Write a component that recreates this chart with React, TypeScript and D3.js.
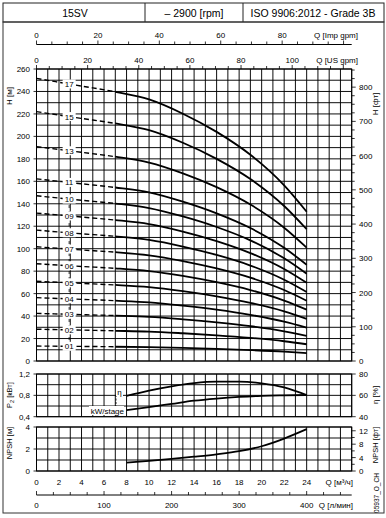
import React from "react";
import * as d3 from "d3";

// ---------- data ----------
const flowPts = [0, 4, 7, 10, 13, 16, 19, 22, 24]; // m3/h
const stageNames = ["01", "02", "03", "04", "05", "06", "07", "08", "09", "10", "11", "13", "15", "17"];
const head01 = [13.3, 13.0, 12.7, 12.3, 11.7, 10.8, 9.7, 8.3, 7.0];
const head02 = [28.3, 27.5, 26.9, 26.2, 24.7, 22.9, 20.6, 17.6, 14.9];
const head03 = [42.4, 41.3, 40.4, 39.3, 37.1, 34.4, 31.0, 26.4, 22.4];
const head04 = [56.4, 54.9, 53.7, 52.2, 49.3, 45.7, 41.1, 35.1, 29.8];
const head05 = [71.0, 69.1, 67.7, 65.8, 62.2, 57.6, 51.8, 44.2, 37.5];
const head06 = [86.6, 84.2, 82.5, 80.1, 75.8, 70.2, 63.2, 53.8, 45.7];
const head07 = [101.7, 98.9, 96.9, 94.1, 89.0, 82.4, 74.2, 63.2, 53.7];
const head08 = [116.5, 113.3, 111.0, 107.8, 101.9, 94.4, 85.0, 72.4, 61.5];
const head09 = [131.7, 128.2, 125.5, 121.9, 115.3, 106.8, 96.1, 81.9, 69.6];
const head10 = [147.1, 143.1, 140.2, 136.2, 128.7, 119.3, 107.4, 91.4, 77.7];
const head11 = [162.2, 157.8, 154.5, 150.2, 141.9, 131.5, 118.4, 100.8, 85.7];
const head13 = [190.9, 185.8, 181.9, 176.7, 167.1, 154.8, 139.3, 118.7, 100.9];
const head15 = [222.0, 216.0, 211.5, 205.5, 194.3, 180.0, 162.0, 138.0, 117.3];
const head17 = [251.6, 244.8, 239.7, 232.9, 220.2, 204.0, 183.6, 156.4, 132.9];
const headCurves = [head01, head02, head03, head04, head05, head06, head07, head08, head09, head10, head11, head13, head15, head17];

const perfFlow = [8, 10, 12, 14, 16, 18, 20, 22, 24];
const effVals = [59.5, 64.5, 68.5, 71.5, 72.8, 72.8, 71.3, 67.5, 60.3];
const powVals = [0.525, 0.58, 0.64, 0.7, 0.74, 0.77, 0.79, 0.8, 0.807];
const npshVals = [0.76, 0.92, 1.1, 1.3, 1.52, 1.8, 2.25, 2.95, 3.8];

const qTicksM3h = [0, 2, 4, 6, 8, 10, 12, 14, 16, 18, 20, 22, 24];
const hTicksM = [0, 20, 40, 60, 80, 100, 120, 140, 160, 180, 200, 220, 240, 260];
const hTicksFt = [0, 100, 200, 300, 400, 500, 600, 700, 800];
const impTicks = [0, 20, 40, 60, 80];
const usTicks = [0, 20, 40, 60, 80, 100];
const lminTicks = [0, 100, 200, 300, 400];
const pTicks = [0.4, 0.8, 1.2];
const pTickLabels = ["0,4", "0,8", "1,2"];
const etaTicks = [40, 60, 80];
const npshMTicks = [0, 2, 4];
const npshFtTicks = [0, 4, 8, 12];

// unit conversions
const IMP = 0.272765; // m3/h per Imp gpm
const USG = 0.227125; // m3/h per US gpm
const LMIN = 0.06; // m3/h per l/min
const FT = 0.3048; // m per ft

const FONT = "'Liberation Sans', Arial, Helvetica, sans-serif";

export default function App() {
  const x = d3.scaleLinear().domain([0, 28]).range([36.5, 351.7]);
  const yH = d3.scaleLinear().domain([0, 260]).range([361, 69]);
  const yP = d3.scaleLinear().domain([0.4, 1.2]).range([416.7, 374]);
  const yE = d3.scaleLinear().domain([40, 80]).range([416.7, 374]);
  const yN = d3.scaleLinear().domain([0, 4]).range([471, 427]);

  const xL = x(0), xR = x(28);
  const gridQ = d3.range(0, 29, 1);
  const gridH = d3.range(0, 261, 10);
  const gridP = [0.4, 0.6, 0.8, 1.0, 1.2];
  const gridN = [0, 1, 2, 3, 4];

  const lineH = d3
    .line<[number, number]>()
    .x((d) => x(d[0]))
    .y((d) => yH(d[1]))
    .curve(d3.curveMonotoneX);
  const mk = (ys: number[], sc: d3.ScaleLinear<number, number>, xs: number[]) =>
    d3
      .line<[number, number]>()
      .x((d) => x(d[0]))
      .y((d) => sc(d[1]))
      .curve(d3.curveMonotoneX)(xs.map((q, i) => [q, ys[i]] as [number, number])) || "";

  const labelQ = 2.9;
  const labelPos = headCurves.map((h) => {
    const t = labelQ / 4;
    return h[0] + (h[1] - h[0]) * t;
  });
  const lx = x(labelQ);

  const gridStroke = "#000";
  const gw = 0.95;
  const tickFont = 8;

  const vGrid = (y1: number, y2: number) =>
    gridQ.map((q) => <line key={"v" + q + y1} x1={x(q)} x2={x(q)} y1={y1} y2={y2} stroke={gridStroke} strokeWidth={gw} />);

  return (
    <svg width={386} height={518} style={{ position: "absolute", left: 0, top: 0, background: "#fff" }} fontFamily={FONT}>
      <defs>
        <clipPath id="dashClip">
          <rect x={xL} y={60} width={x(7) - xL} height={310} />
        </clipPath>
        <clipPath id="solidClip">
          <rect x={x(7)} y={60} width={xR - x(7)} height={310} />
        </clipPath>
      </defs>
      <rect x={0} y={0} width={386} height={518} fill="#fff" />
      {/* header */}
      <rect x={3} y={3} width={381} height={19} fill="none" stroke="#222" strokeWidth={1} />
      <line x1={145} x2={145} y1={3} y2={22} stroke="#222" />
      <line x1={243} x2={243} y1={3} y2={22} stroke="#222" />
      <text x={75} y={16.5} fontSize={10.5} textAnchor="middle">15SV</text>
      <text x={194} y={16.5} fontSize={10.5} textAnchor="middle">– 2900 [rpm]</text>
      <text x={313} y={16.5} fontSize={10.5} textAnchor="middle">ISO 9906:2012 - Grade 3B</text>
      {/* outer frame */}
      <rect x={3} y={22} width={381} height={491} fill="none" stroke="#333" strokeWidth={1} />

      {/* top axes: Imp gpm */}
      <line x1={xL} x2={xR} y1={44.5} y2={44.5} stroke="#000" strokeWidth={1} />
      {d3.range(0, 101, 5).map((g) => (
        <line key={"imp" + g} x1={x(g * IMP)} x2={x(g * IMP)} y1={44.5} y2={g % 20 === 0 ? 40.5 : 41.5} stroke="#000" strokeWidth={0.8} />
      ))}
      {impTicks.map((g) => (
        <text key={"impl" + g} x={x(g * IMP)} y={38} fontSize={tickFont} textAnchor="middle">{g}</text>
      ))}
      <text x={358} y={38} fontSize={tickFont} textAnchor="end">Q [Imp gpm]</text>
      {/* US gpm */}
      {d3.range(0, 121, 5).map((g) => (
        <line key={"us" + g} x1={x(g * USG)} x2={x(g * USG)} y1={69} y2={g % 20 === 0 ? 65 : 66} stroke="#000" strokeWidth={0.8} />
      ))}
      {usTicks.map((g) => (
        <text key={"usl" + g} x={x(g * USG)} y={63} fontSize={tickFont} textAnchor="middle">{g}</text>
      ))}
      <text x={358} y={63} fontSize={tickFont} textAnchor="end">Q [US gpm]</text>

      {/* main grid */}
      {vGrid(69, 361)}
      {gridH.map((h) => (
        <line key={"h" + h} x1={xL} x2={xR} y1={yH(h)} y2={yH(h)} stroke={gridStroke} strokeWidth={gw} />
      ))}
      <rect x={xL} y={69} width={xR - xL} height={292} fill="none" stroke="#000" strokeWidth={1} />
      {/* left H axis */}
      {hTicksM.map((h) => (
        <g key={"hl" + h}>
          <line x1={xL - 3} x2={xL} y1={yH(h)} y2={yH(h)} stroke="#000" strokeWidth={0.8} />
          <text x={30} y={yH(h) + 3} fontSize={tickFont} textAnchor="end">{h}</text>
        </g>
      ))}
      <text transform={`translate(12,96) rotate(-90)`} fontSize={tickFont} textAnchor="middle">H [м]</text>
      {/* right ft axis */}
      {d3.range(0, 851, 25).map((f) => (
        <line key={"ft" + f} x1={xR} x2={xR + (f % 100 === 0 ? 4 : 3)} y1={yH(f * FT)} y2={yH(f * FT)} stroke="#000" strokeWidth={0.8} />
      ))}
      {hTicksFt.map((f) => (
        <text key={"ftl" + f} x={359} y={yH(f * FT) + 3} fontSize={tickFont}>{f}</text>
      ))}
      <text transform={`translate(378,104) rotate(-90)`} fontSize={tickFont} textAnchor="middle">H [фт]</text>

      {/* head curves */}
      {headCurves.map((h, i) => {
        const d = lineH(flowPts.map((q, j) => [q, h[j]] as [number, number])) || "";
        return (
          <g key={"c" + i}>
            <path d={d} fill="none" stroke="#000" strokeWidth={1.4} strokeDasharray="5,3" clipPath="url(#dashClip)" />
            <path d={d} fill="none" stroke="#000" strokeWidth={1.8} clipPath="url(#solidClip)" />
          </g>
        );
      })}
      {/* label leader */}
      <line x1={lx} x2={lx} y1={yH(labelPos[9])} y2={yH(labelPos[0])} stroke="#000" strokeWidth={0.8} strokeDasharray="3,3" />
      {stageNames.map((s, i) => (
        <g key={"lab" + s}>
          <rect x={lx - 6.5} y={yH(labelPos[i]) - 4.5} width={13} height={9} fill="#fff" />
          <text x={lx} y={yH(labelPos[i]) + 3} fontSize={tickFont} textAnchor="middle">{s}</text>
        </g>
      ))}

      {/* P / eta panel */}
      {vGrid(374, 416.7)}
      {gridP.map((p) => (
        <line key={"p" + p} x1={xL} x2={xR} y1={yP(p)} y2={yP(p)} stroke={gridStroke} strokeWidth={gw} />
      ))}
      <rect x={xL} y={374} width={xR - xL} height={42.7} fill="none" stroke="#000" strokeWidth={1} />
      {pTicks.map((p, i) => (
        <g key={"pl" + p}>
          <line x1={xL - 3} x2={xL} y1={yP(p)} y2={yP(p)} stroke="#000" strokeWidth={0.8} />
          <text x={30} y={yP(p) + 3} fontSize={tickFont} textAnchor="end">{pTickLabels[i]}</text>
        </g>
      ))}
      {etaTicks.map((e) => (
        <g key={"el" + e}>
          <line x1={xR} x2={xR + 4} y1={yE(e)} y2={yE(e)} stroke="#000" strokeWidth={0.8} />
          <text x={359} y={yE(e) + 3} fontSize={tickFont}>{e}</text>
        </g>
      ))}
      <text transform={`translate(12,395) rotate(-90)`} fontSize={7.5} textAnchor="middle">
        P<tspan fontSize={5.5} dy={2}>2</tspan><tspan dy={-2}> [кВт]</tspan>
      </text>
      <text transform={`translate(378,395) rotate(-90)`} fontSize={tickFont} textAnchor="middle">η [%]</text>
      <path d={mk(effVals, yE, perfFlow)} fill="none" stroke="#000" strokeWidth={1.8} />
      <path d={mk(powVals, yP, perfFlow)} fill="none" stroke="#000" strokeWidth={1.8} />
      <line x1={116} x2={116} y1={395} y2={406} stroke="#000" strokeWidth={0.8} strokeDasharray="2,1.5" />
      <rect x={116} y={388} width={7} height={8} fill="#fff" />
      <text x={119.5} y={394.5} fontSize={tickFont} textAnchor="middle">η</text>
      <rect x={89} y={406} width={35} height={9} fill="#fff" />
      <text x={124} y={413.5} fontSize={tickFont} textAnchor="end">kW/stage</text>

      {/* NPSH panel */}
      {vGrid(427, 471)}
      {gridN.map((n) => (
        <line key={"n" + n} x1={xL} x2={xR} y1={yN(n)} y2={yN(n)} stroke={gridStroke} strokeWidth={gw} />
      ))}
      <rect x={xL} y={427} width={xR - xL} height={44} fill="none" stroke="#000" strokeWidth={1} />
      {npshMTicks.map((n) => (
        <g key={"nl" + n}>
          <line x1={xL - 3} x2={xL} y1={yN(n)} y2={yN(n)} stroke="#000" strokeWidth={0.8} />
          <text x={30} y={yN(n) + 3} fontSize={tickFont} textAnchor="end">{n}</text>
        </g>
      ))}
      {d3.range(0, 13, 2).map((f) => (
        <line key={"nf" + f} x1={xR} x2={xR + (f % 4 === 0 ? 4 : 3)} y1={yN(f * FT)} y2={yN(f * FT)} stroke="#000" strokeWidth={0.8} />
      ))}
      {npshFtTicks.map((f) => (
        <text key={"nfl" + f} x={359} y={yN(f * FT) + 3} fontSize={tickFont}>{f}</text>
      ))}
      <text transform={`translate(12,443) rotate(-90)`} fontSize={7.5} textAnchor="middle">NPSH [м]</text>
      <text transform={`translate(378,445) rotate(-90)`} fontSize={7.5} textAnchor="middle">NPSH [фт]</text>
      <path d={mk(npshVals, yN, perfFlow)} fill="none" stroke="#000" strokeWidth={1.8} />

      {/* bottom m3/h labels */}
      {qTicksM3h.map((q) => (
        <text key={"qm" + q} x={x(q)} y={485} fontSize={tickFont} textAnchor="middle">{q}</text>
      ))}
      <text x={353} y={485} fontSize={tickFont} textAnchor="end">Q [м³/ч]</text>
      {/* l/min axis */}
      <line x1={xL} x2={xR} y1={495} y2={495} stroke="#000" strokeWidth={1} />
      {d3.range(0, 451, 25).map((l) => (
        <line key={"lm" + l} x1={x(l * LMIN)} x2={x(l * LMIN)} y1={495} y2={l % 100 === 0 ? 491 : 492} stroke="#000" strokeWidth={0.8} />
      ))}
      {lminTicks.map((l) => (
        <text key={"lml" + l} x={x(l * LMIN)} y={508} fontSize={tickFont} textAnchor="middle">{l}</text>
      ))}
      <text x={353} y={508} fontSize={tickFont} textAnchor="end">Q [л/мин]</text>
      <text transform={`translate(379,493) rotate(-90)`} fontSize={6.5} textAnchor="middle">05937_O_CH</text>
    </svg>
  );
}
